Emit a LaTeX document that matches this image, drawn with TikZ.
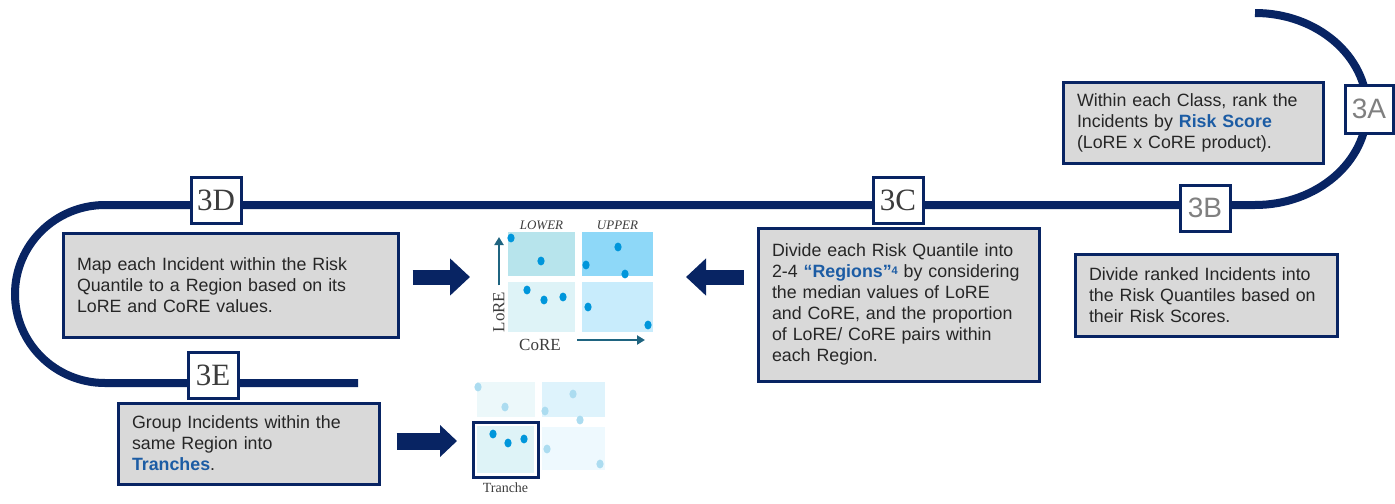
\documentclass[tikz,border=0pt]{standalone}
\usepackage{fontspec}
\setmainfont{Liberation Sans}
\newfontfamily\timesfont{Liberation Serif}
\usetikzlibrary{arrows.meta,positioning}
\definecolor{navy}{RGB}{8,36,99}
\definecolor{boxgray}{RGB}{217,217,217}
\definecolor{textgray}{RGB}{38,38,38}
\definecolor{keyblue}{RGB}{28,92,164}
\definecolor{taggray}{RGB}{128,128,128}
\definecolor{tagdark}{RGB}{60,60,60}
\definecolor{dotblue}{RGB}{0,150,219}
\definecolor{dotpale}{RGB}{172,220,240}
\definecolor{axisteal}{RGB}{31,100,128}
\definecolor{cellTL}{RGB}{183,228,236}
\definecolor{cellTR}{RGB}{142,216,248}
\definecolor{cellBL}{RGB}{222,243,247}
\definecolor{cellBR}{RGB}{200,236,252}
\definecolor{fadeTL}{RGB}{236,248,250}
\definecolor{fadeTR}{RGB}{222,243,252}
\definecolor{fadeBR}{RGB}{238,249,254}

\begin{document}
\begin{tikzpicture}[x=0.5pt,y=-0.5pt,
  track/.style={navy,line width=4pt},
  steptag/.style={draw=navy,line width=1.5pt,fill=white,minimum width=25pt,minimum height=23pt,inner sep=0pt},
  sanstag/.style={steptag,text=taggray,font=\fontsize{14}{14}\selectfont},
  seriftag/.style={steptag,text=tagdark,font=\timesfont\fontsize{15.5}{15.5}\selectfont},
  stepbox/.style={draw=navy,line width=1.5pt,fill=boxgray,inner xsep=7pt,inner ysep=3pt,align=left,text=textgray,font=\fontsize{8.9}{10.5}\selectfont},
  bigarrow/.style={navy,line width=7.5pt,-{Triangle[length=10pt,width=18pt]}},
  axisarrow/.style={axisteal,line width=1pt,-{Triangle[length=4pt,width=4.5pt]}},
  cell/.style={inner sep=0pt},
  axislabel/.style={text=tagdark,font=\timesfont\fontsize{8.5}{8.5}\selectfont,inner sep=1pt}]
\useasboundingbox (0,0) rectangle (1395,503);

\draw[track] (1255,13) arc[start angle=-90,end angle=90,x radius=112,y radius=96]
  -- (105,205) arc[start angle=-90,end angle=-270,x radius=90,y radius=89] -- (358,383);

\node[sanstag,minimum width=24pt,minimum height=24pt] (t3a) at (1369,109) {3A};
\node[sanstag] (t3b) at (1205,208) {3B};
\node[seriftag] (t3c) at (898,200) {3C};
\node[seriftag] (t3d) at (216,200) {3D};
\node[seriftag] (t3e) at (213,375) {3E};

\node[stepbox,text width=116pt,minimum height=40.5pt] (boxA) at (1193,122.5) {Within each Class, rank the\\Incidents by {\color{keyblue}\bfseries Risk Score}\\(LoRE x CoRE product).};
\node[stepbox,text width=117pt,minimum height=41pt] (boxB) at (1206,295) {Divide ranked Incidents into\\the Risk Quantiles based on\\their Risk Scores.};
\node[stepbox,text width=126.5pt,minimum height=76.5pt] (boxC) at (898.5,304.5) {Divide each Risk Quantile into\\2-4 {\color{keyblue}\bfseries “Regions”\raisebox{0.3ex}{\fontsize{5.5}{5.5}\selectfont 4}} by considering\\the median values of LoRE\\and CoRE, and the proportion\\of LoRE/ CoRE pairs within\\each Region.};
\node[stepbox,text width=153.5pt,minimum height=52pt] (boxD) at (230.5,285) {Map each Incident within the Risk\\Quantile to a Region based on its\\LoRE and CoRE values.};
\node[stepbox,text width=116.5pt,minimum height=40.5pt] (boxE) at (248.5,443.5) {Group Incidents within the\\same Region into\\{\color{keyblue}\bfseries Tranches}.};

\node[cell,fill=cellTL,minimum width=33.5pt,minimum height=22pt] (qTL) at (541.5,254) {};
\node[cell,fill=cellTR,minimum width=35.5pt,minimum height=22pt] (qTR) at (617.5,254) {};
\node[cell,fill=cellBL,minimum width=33.5pt,minimum height=25pt] (qBL) at (541.5,307) {};
\node[cell,fill=cellBR,minimum width=35.5pt,minimum height=25pt] (qBR) at (617.5,307) {};
\node[axislabel,font=\timesfont\itshape\fontsize{6.5}{6.5}\selectfont,above=0pt of qTL] (lower) {LOWER};
\node[axislabel,font=\timesfont\itshape\fontsize{6.5}{6.5}\selectfont,above=0pt of qTR] (upper) {UPPER};
\node[axislabel,rotate=90] (lore) at (499,312) {LoRE};
\node[axislabel] (core) at (540,345) {CoRE};
\coordinate (loreTip) at (498,237);
\coordinate (coreTip) at (645,340);
\draw[axisarrow] ([yshift=2pt]lore.east) -- (lore.east |- loreTip);
\draw[axisarrow] ([xshift=7pt]core.east |- coreTip) -- (coreTip);
\foreach \px/\py in {511/238,541/261,618/247,586/265,625/274,527/290,544/300,563/297,588/307,648/325}
  \fill[dotblue] (\px,\py) ellipse[x radius=1.8pt,y radius=2.2pt];

\node[cell,fill=fadeTL,minimum width=29pt,minimum height=17.5pt] (fTL) at (506,399.5) {};
\node[cell,fill=fadeTR,minimum width=31.5pt,minimum height=17.5pt] (fTR) at (573.5,399.5) {};
\node[cell,fill=fadeBR,minimum width=31.5pt,minimum height=21.5pt] (fBR) at (573.5,448.5) {};
\node[cell,draw=navy,line width=1.5pt,fill=white,minimum width=32.5pt,minimum height=27.5pt] (tranche) at (505.5,449.5) {};
\node[cell,fill=cellBL,minimum width=28.5pt,minimum height=23.5pt] (trcell) at (tranche.center) {};
\foreach \px/\py in {478/387,505/407,573/394,545/411,580/420,547/449,600/464}
  \fill[dotpale] (\px,\py) ellipse[x radius=1.8pt,y radius=2.2pt];
\foreach \px/\py in {493/434,508/443,524/439}
  \fill[dotblue] (\px,\py) ellipse[x radius=1.8pt,y radius=2.2pt];
\node[axislabel,font=\timesfont\fontsize{7}{7}\selectfont,below=1pt of tranche] (trlabel) {Tranche};

\coordinate (dTip) at (470,277);
\coordinate (cTip) at (686,277);
\coordinate (eTip) at (457,441);
\draw[bigarrow] ([xshift=6.5pt]boxD.east |- dTip) -- (dTip);
\draw[bigarrow] ([xshift=-6.5pt]boxC.west |- cTip) -- (cTip);
\draw[bigarrow,line width=8.5pt,-{Triangle[length=8.5pt,width=15.5pt]}] ([xshift=8pt]boxE.east |- eTip) -- (eTip);
\end{tikzpicture}
\end{document}
